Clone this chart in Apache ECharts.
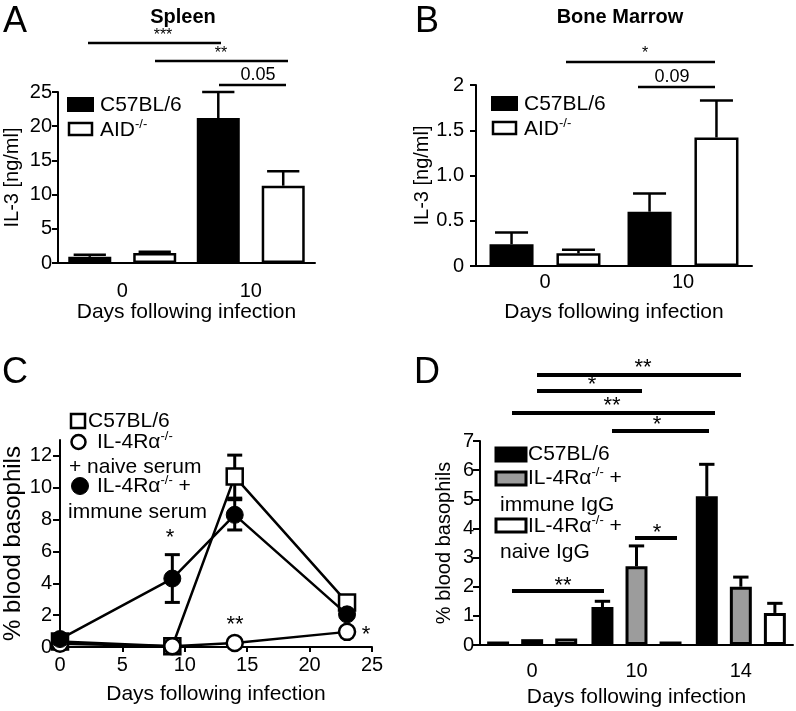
<!DOCTYPE html>
<html><head><meta charset="utf-8">
<script src="https://cdn.jsdelivr.net/npm/echarts@6/dist/echarts.min.js"></script>
<style>html,body{margin:0;padding:0;background:#fff}#c{width:796px;height:711px}</style>
</head><body><div id="c"></div><script>
// ---------------- data ----------------
const daysAB = ['0', '10'];
const spleenC57 = [0.9, 21.2];
const spleenC57Err = [0.3, 3.8];
const spleenAID = [1.45, 11.3];
const spleenAIDErr = [0.2, 2.1];
const bmC57 = [0.24, 0.6];
const bmC57Err = [0.13, 0.2];
const bmAID = [0.14, 1.42];
const bmAIDErr = [0.04, 0.41];

const daysC = [0, 9, 14, 23];
const cC57 = [0.35, 0.05, 10.7, 2.8];
const cC57Err = [0, 0, 1.35, 0];
const cNaive = [0.2, 0.05, 0.25, 0.95];
const cImmune = [0.5, 4.3, 8.3, 2.05];
const cImmuneErr = [0, 1.5, 0.95, 0];

const daysD = ['0', '10', '14'];
const dC57 = [0.12, 1.3, 5.1];
const dC57Err = [0, 0.2, 1.1];
const dImmune = [0.2, 2.7, 2.0];
const dImmuneErr = [0, 0.7, 0.33];
const dNaive = [0.22, 0.12, 1.1];
const dNaiveErr = [0, 0, 0.33];

const ticksC = [0, 2, 4, 6, 8, 10, 12];

// ---------------- style ----------------
const FF = '"Liberation Sans", Arial, sans-serif';
const GRAY = '#9c9c9c';
const LAY = {
  A: {gap: 0.16, barGap: 0.51, border: 2},
  B: {gap: 0.196, barGap: 0.52, border: 2},
  D: {gap: 0.137, barGap: 0.55, border: 3}
};

function errSeries(xi, yi, vals, errs, k, n, lay, lw, capRatio, capMax) {
  return {
    type: 'custom', xAxisIndex: xi, yAxisIndex: yi, z: 5,
    data: vals.map((v, i) => [i, v, errs[i]]).filter(d => d[2] > 0),
    renderItem: (params, api) => {
      const ci = api.value(0), v = api.value(1), e = api.value(2);
      const band = api.size([1, 0])[0];
      const total = band * (1 - lay.gap);
      const bw = total / (n + (n - 1) * lay.barGap);
      const off = -total / 2 + k * bw * (1 + lay.barGap) + bw / 2;
      const p0 = api.coord([ci, v]);
      const p1 = api.coord([ci, v + e]);
      const x = p0[0] + off;
      const cw = Math.min(bw * capRatio, capMax);
      const st = {stroke: '#000', lineWidth: lw};
      return {type: 'group', children: [
        {type: 'line', shape: {x1: x, y1: p0[1], x2: x, y2: p1[1]}, style: st},
        {type: 'line', shape: {x1: x - cw / 2, y1: p1[1], x2: x + cw / 2, y2: p1[1]}, style: st}
      ]};
    }
  };
}
function errXY(xi, yi, xs, vals, errs, lw, cw) {
  return {
    type: 'custom', xAxisIndex: xi, yAxisIndex: yi, z: 1,
    data: xs.map((x, i) => [x, vals[i], errs[i]]).filter(d => d[2] > 0),
    renderItem: (params, api) => {
      const x = api.value(0), v = api.value(1), e = api.value(2);
      const pt = api.coord([x, v + e]), pb = api.coord([x, v - e]);
      const st = {stroke: '#000', lineWidth: lw};
      return {type: 'group', children: [
        {type: 'line', shape: {x1: pt[0], y1: pt[1], x2: pb[0], y2: pb[1]}, style: st},
        {type: 'line', shape: {x1: pt[0] - cw / 2, y1: pt[1], x2: pt[0] + cw / 2, y2: pt[1]}, style: st},
        {type: 'line', shape: {x1: pb[0] - cw / 2, y1: pb[1], x2: pb[0] + cw / 2, y2: pb[1]}, style: st}
      ]};
    }
  };
}

const axLine = {show: true, lineStyle: {color: '#000', width: 2}};
function yAx(gi, name, o) {
  return Object.assign({
    type: 'value', gridIndex: gi, name: name, nameLocation: 'middle',
    nameTextStyle: {color: '#000', fontSize: 20, fontFamily: FF},
    axisLine: axLine, axisTick: {show: true, length: 6, lineStyle: {color: '#000', width: 2}},
    axisLabel: {color: '#000', fontSize: 20, fontFamily: FF, margin: 6},
    splitLine: {show: false}
  }, o);
}
function xCat(gi, cats, o) {
  return Object.assign({
    type: 'category', gridIndex: gi, data: cats, name: 'Days following infection', nameLocation: 'middle',
    nameTextStyle: {color: '#000', fontSize: 21, fontFamily: FF},
    axisLine: axLine, axisTick: {show: false},
    axisLabel: {color: '#000', fontSize: 20, fontFamily: FF}
  }, o);
}
function bar(xi, yi, vals, fill, lay, extra) {
  return Object.assign({
    type: 'bar', xAxisIndex: xi, yAxisIndex: yi, data: vals,
    barGap: (lay.barGap * 100) + '%', barCategoryGap: (lay.gap * 100) + '%',
    itemStyle: {color: fill, borderColor: '#000', borderWidth: lay.border}
  }, extra || {});
}

// graphic helpers
function txt(x, y, s, size, opts) {
  opts = opts || {};
  return {type: 'text', x: x, y: y, z: 10, style: Object.assign({
    text: s, fill: '#000', font: (opts.bold ? 'bold ' : '') + size + 'px ' + FF,
    fontSize: size, fontFamily: FF, fontWeight: opts.bold ? 'bold' : 'normal',
    align: opts.align || 'left', verticalAlign: 'middle',
    textAlign: opts.align || 'left', textVerticalAlign: 'middle'
  }, opts.rich ? {rich: opts.rich} : {})};
}
function sup(x, y, main, supText, size, tail) {
  return txt(x, y, '{a|' + main + '}{s|' + supText + '}' + (tail ? '{a|' + tail + '}' : ''), size, {
    rich: {a: {fontSize: size, fontFamily: FF, lineHeight: size + 4, verticalAlign: 'middle'},
           s: {fontSize: Math.round(size * 0.62), fontFamily: FF, lineHeight: size + 4, verticalAlign: 'top'}}
  });
}
function hline(x1, x2, y, w) {
  return {type: 'line', z: 10, shape: {x1: x1, y1: y, x2: x2, y2: y}, style: {stroke: '#000', lineWidth: w}};
}
function rect(x, y, w, h, fill, lw) {
  return {type: 'rect', z: 10, shape: {x: x, y: y, width: w, height: h}, style: {fill: fill, stroke: '#000', lineWidth: lw}};
}

const graphics = [
  // panel letters
  txt(15, 22, 'A', 36, {align: 'center'}),
  txt(427, 22, 'B', 36, {align: 'center'}),
  txt(15, 373, 'C', 36, {align: 'center'}),
  txt(427, 373, 'D', 36, {align: 'center'}),
  // titles
  txt(183, 17, 'Spleen', 20, {align: 'center', bold: true}),
  txt(620, 17, 'Bone Marrow', 20, {align: 'center', bold: true}),
  // A significance
  hline(88, 221, 43, 2.5), txt(163, 36, '***', 16, {align: 'center'}),
  hline(155, 288, 61, 2.5), txt(221, 54, '**', 16, {align: 'center'}),
  hline(219, 286, 85, 2.5), txt(258, 75, '0.05', 18, {align: 'center'}),
  // A legend
  rect(68, 98, 25, 13, '#000', 2), txt(100, 105, 'C57BL/6', 21),
  rect(69, 123, 23, 12, '#fff', 2.5), sup(100, 130, 'AID', '-/-', 21),
  // B significance
  hline(566, 715, 62, 2.5), txt(645, 54, '*', 16, {align: 'center'}),
  hline(638, 715, 87, 2.5), txt(672, 77, '0.09', 18, {align: 'center'}),
  // B legend
  rect(492, 97, 25, 13, '#000', 2), txt(524, 104, 'C57BL/6', 21),
  rect(493, 122, 23, 12, '#fff', 2.5), sup(524, 129, 'AID', '-/-', 21),
  // C legend
  {type: 'rect', z: 10, shape: {x: 71, y: 414, width: 14, height: 14}, style: {fill: '#fff', stroke: '#000', lineWidth: 2.5}},
  txt(88, 421, 'C57BL/6', 21),
  {type: 'circle', z: 10, shape: {cx: 78.5, cy: 442, r: 7}, style: {fill: '#fff', stroke: '#000', lineWidth: 2.5}},
  sup(97, 442, 'IL-4Rα', '-/-', 21),
  txt(69, 467, '+ naive serum', 21),
  {type: 'circle', z: 10, shape: {cx: 80, cy: 486, r: 8.5}, style: {fill: '#000', stroke: '#000', lineWidth: 1}},
  sup(97, 486, 'IL-4Rα', '-/-', 21, ' +'),
  txt(68, 512, 'immune serum', 21),
  // C annotations
  txt(170, 538, '*', 22, {align: 'center'}),
  txt(235, 625, '**', 22, {align: 'center'}),
  txt(366, 635, '*', 22, {align: 'center'}),
  // D significance
  hline(537, 741, 375, 4), txt(643, 368, '**', 22, {align: 'center'}),
  hline(537, 642, 391, 4), txt(592, 385, '*', 22, {align: 'center'}),
  hline(512, 715, 413, 4), txt(612, 406, '**', 22, {align: 'center'}),
  hline(612, 709, 431, 4), txt(657, 425, '*', 22, {align: 'center'}),
  hline(635, 677, 538, 4), txt(657, 533, '*', 22, {align: 'center'}),
  hline(512, 604, 591, 4), txt(563, 586, '**', 22, {align: 'center'}),
  // D legend
  rect(496, 448, 30, 13, '#000', 3), txt(528, 454, 'C57BL/6', 21),
  rect(496, 472, 30, 13, GRAY, 3), sup(528, 478, 'IL-4Rα', '-/-', 21, ' +'),
  txt(500, 505, 'immune IgG', 21),
  rect(496, 519, 30, 13, '#fff', 3), sup(528, 526, 'IL-4Rα', '-/-', 21, ' +'),
  txt(500, 552, 'naive IgG', 21)
];

const option = {
  backgroundColor: '#fff',
  animation: false,
  textStyle: {fontFamily: FF, color: '#000'},
  grid: [
    {left: 58, top: 92, width: 257, height: 171},
    {left: 476, top: 85, width: 276, height: 181},
    {left: 60, top: 440, width: 312, height: 207},
    {left: 480, top: 441, width: 313, height: 204}
  ],
  xAxis: [
    xCat(0, daysAB, {nameGap: 38, axisLabel: {color: '#000', fontSize: 20, fontFamily: FF, margin: 18}}),
    xCat(1, daysAB, {nameGap: 36, axisLabel: {color: '#000', fontSize: 20, fontFamily: FF, margin: 6}}),
    {type: 'value', gridIndex: 2, min: 0, max: 25, interval: 5, name: 'Days following infection', nameLocation: 'middle', nameGap: 37,
     nameTextStyle: {color: '#000', fontSize: 21, fontFamily: FF},
     axisLine: axLine, axisTick: {show: true, length: 5, lineStyle: {color: '#000', width: 2}},
     axisLabel: {color: '#000', fontSize: 20, fontFamily: FF, margin: 8}, splitLine: {show: false}},
    xCat(3, daysD, {nameGap: 42, axisLabel: {color: '#000', fontSize: 20, fontFamily: FF, margin: 16}})
  ],
  yAxis: [
    yAx(0, 'IL-3 [ng/ml]', {min: 0, max: 25, interval: 5, nameGap: 36}),
    yAx(1, 'IL-3 [ng/ml]', {min: 0, max: 2, interval: 0.5, nameGap: 44,
      axisLabel: {color: '#000', fontSize: 20, fontFamily: FF, margin: 12,
        formatter: v => (v === 0 ? '0' : v === 2 ? '2' : v.toFixed(1))}}),
    yAx(2, '% blood basophils', {min: 0, max: 13, nameGap: 34,
      nameTextStyle: {color: '#000', fontSize: 24, fontFamily: FF},
      axisTick: {show: true, length: 7, customValues: ticksC, lineStyle: {color: '#000', width: 2}},
      axisLabel: {color: '#000', fontSize: 20, fontFamily: FF, margin: 8, customValues: ticksC}}),
    yAx(3, '% blood basophils', {min: 0, max: 7, interval: 1, nameGap: 26,
      axisTick: {show: true, length: 7, lineStyle: {color: '#000', width: 2}}})
  ],
  graphic: graphics,
  series: [
    bar(0, 0, spleenC57, '#000', LAY.A),
    bar(0, 0, spleenAID, '#fff', LAY.A, {itemStyle: {color: '#fff', borderColor: '#000', borderWidth: 2.5}}),
    errSeries(0, 0, spleenC57, spleenC57Err, 0, 2, LAY.A, 2.5, 0.75, 34),
    errSeries(0, 0, spleenAID, spleenAIDErr, 1, 2, LAY.A, 2.5, 0.75, 34),

    bar(1, 1, bmC57, '#000', LAY.B),
    bar(1, 1, bmAID, '#fff', LAY.B, {itemStyle: {color: '#fff', borderColor: '#000', borderWidth: 2.5}}),
    errSeries(1, 1, bmC57, bmC57Err, 0, 2, LAY.B, 2.5, 0.75, 34),
    errSeries(1, 1, bmAID, bmAIDErr, 1, 2, LAY.B, 2.5, 0.75, 34),

    errXY(2, 2, daysC, cC57, cC57Err, 3, 15),
    errXY(2, 2, daysC, cImmune, cImmuneErr, 3, 15),
    {type: 'line', xAxisIndex: 2, yAxisIndex: 2, clip: false, z: 2,
     data: daysC.map((d, i) => [d, cC57[i]]),
     symbol: 'rect', symbolSize: 16, lineStyle: {color: '#000', width: 2.5},
     itemStyle: {color: '#fff', borderColor: '#000', borderWidth: 2.5}},
    {type: 'line', xAxisIndex: 2, yAxisIndex: 2, clip: false, z: 3,
     data: daysC.map((d, i) => [d, cNaive[i]]),
     symbol: 'circle', symbolSize: 16, lineStyle: {color: '#000', width: 2.5},
     itemStyle: {color: '#fff', borderColor: '#000', borderWidth: 2.5}},
    {type: 'line', xAxisIndex: 2, yAxisIndex: 2, clip: false, z: 4,
     data: daysC.map((d, i) => [d, cImmune[i]]),
     symbol: 'circle', symbolSize: 17, lineStyle: {color: '#000', width: 2.5},
     itemStyle: {color: '#000', borderColor: '#000', borderWidth: 1}},

    bar(3, 3, dC57, '#000', LAY.D),
    bar(3, 3, dImmune, GRAY, LAY.D),
    bar(3, 3, dNaive, '#fff', LAY.D),
    errSeries(3, 3, dC57, dC57Err, 0, 3, LAY.D, 3, 0.7, 17),
    errSeries(3, 3, dImmune, dImmuneErr, 1, 3, LAY.D, 3, 0.7, 17),
    errSeries(3, 3, dNaive, dNaiveErr, 2, 3, LAY.D, 3, 0.7, 17)
  ]
};
const chart = echarts.init(document.getElementById('c'), null, {renderer: 'canvas'});
chart.setOption(option);
</script></body></html>
